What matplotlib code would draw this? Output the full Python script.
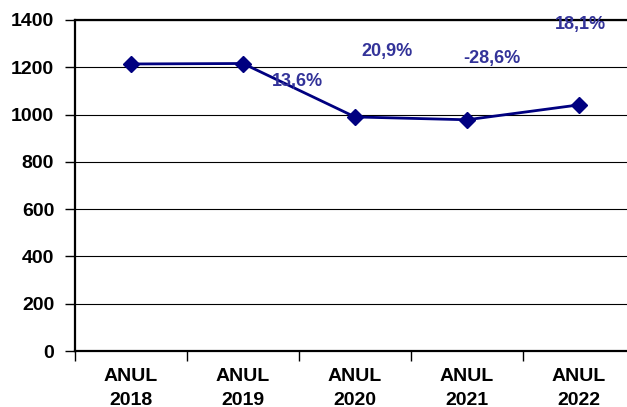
import matplotlib
matplotlib.use("Agg")
import matplotlib.pyplot as plt
from matplotlib.ticker import FixedLocator

categories = ["ANUL\n2018", "ANUL\n2019", "ANUL\n2020", "ANUL\n2021", "ANUL\n2022"]
values = [1214, 1216, 990, 978, 1041]
pct_labels = ["13,6%", "20,9%", "-28,6%", "18,1%"]
pct_pos = [(1.49, 1138), (2.29, 1265), (3.22, 1239), (4.01, 1379)]

plt.rcParams['font.family'] = ['Liberation Sans', 'DejaVu Sans']

W, H = 627, 407
fig = plt.figure(figsize=(W / 100, H / 100), dpi=100)
left, right, top, bottom = 75, 635, 20, 351
ax = fig.add_axes([left / W, 1 - bottom / H, (right - left) / W, (bottom - top) / H])

x = list(range(len(categories)))
ax.plot(x, values, color="#000080", lw=2, marker="D", markersize=8, zorder=3, clip_on=False)

ax.set_xlim(-0.5, len(categories) - 0.5)
ax.set_ylim(0, 1400)
ax.set_yticks(range(0, 1401, 200))
ax.grid(axis="y", color="black", lw=0.8)
ax.set_axisbelow(True)

ax.set_xticks(x)
ax.set_xticklabels(categories, fontsize=14, fontweight="bold", linespacing=1.55)
ax.xaxis.set_minor_locator(FixedLocator([i - 0.5 for i in range(len(categories) + 1)]))
ax.tick_params(axis="x", which="major", length=0, pad=12)
ax.tick_params(axis="x", which="minor", length=7, width=1, direction="out")
ax.tick_params(axis="y", length=7, width=1, direction="out", labelsize=14, pad=8)
for lab in ax.get_yticklabels():
    lab.set_fontweight("bold")

for s in ["left", "bottom", "top"]:
    ax.spines[s].set_linewidth(1.6)
    ax.spines[s].set_color("black")
ax.spines["right"].set_visible(False)

for lab, (px, py) in zip(pct_labels, pct_pos):
    ax.text(px, py, lab, color="#333399", fontsize=13, fontweight="bold",
            ha="center", va="center", zorder=4)

fig.savefig("out.png", dpi=100)
